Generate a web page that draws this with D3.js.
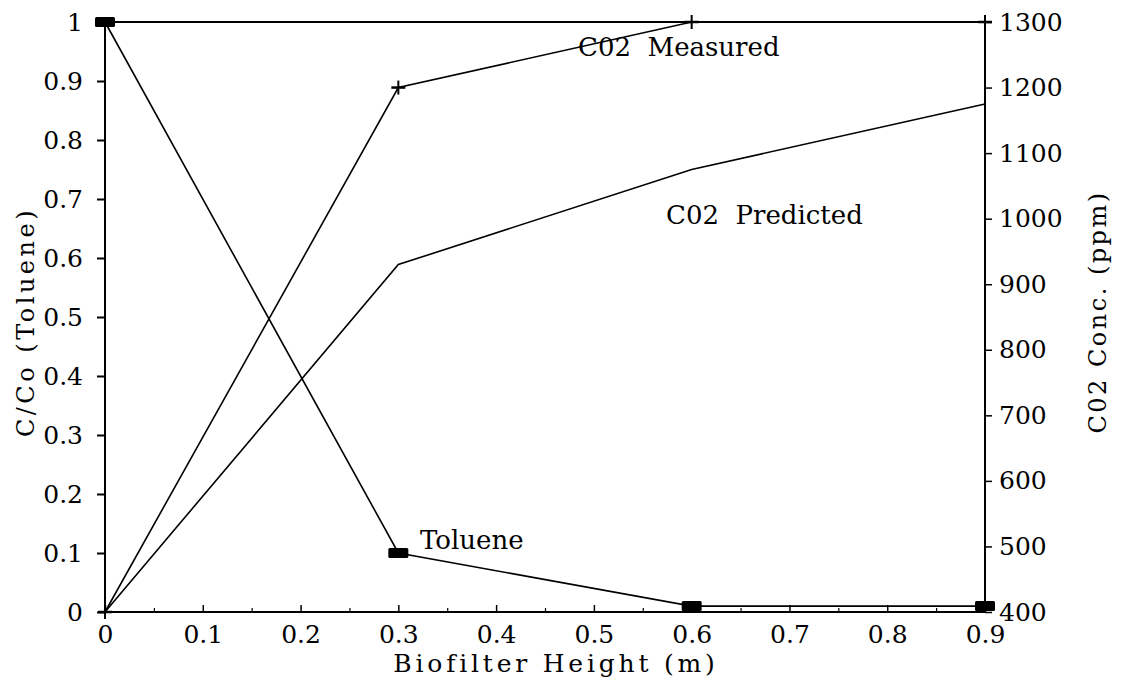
<!DOCTYPE html>
<html><head><meta charset="utf-8">
<script src="https://cdn.jsdelivr.net/npm/d3@7"></script>
<style>body{margin:0;background:#fff}svg{display:block}text{font-family:"DejaVu Serif",serif;fill:#000}</style>
</head><body>
<svg id="chart" width="1124" height="682"></svg>
<script>
const heights = [0, 0.3, 0.6, 0.9];
const toluene = [1.0, 0.10, 0.01, 0.01];
const co2Measured = [400, 1200, 1300, 1300];
const co2Predicted = [400, 930, 1075, 1175];
const xTicks = [0,0.1,0.2,0.3,0.4,0.5,0.6,0.7,0.8,0.9];
const xMinor = [0.05,0.15,0.25,0.35,0.45,0.55,0.65,0.75,0.85];
const leftTicks = [0,0.1,0.2,0.3,0.4,0.5,0.6,0.7,0.8,0.9,1];
const rightTicks = [400,500,600,700,800,900,1000,1100,1200,1300];

const svg = d3.select("#chart");
const L = 105, R = 985, T = 22, B = 612;
const x = d3.scaleLinear().domain([0, 0.9]).range([L, R]);
const yL = d3.scaleLinear().domain([0, 1]).range([B, T]);
const yR = d3.scaleLinear().domain([400, 1300]).range([B, T]);
const fs = 25;

// frame
svg.append("rect").attr("x", L).attr("y", T).attr("width", R - L).attr("height", B - T)
  .attr("fill", "none").attr("stroke", "#000").attr("stroke-width", 2);

// bottom axis: inward ticks
const bx = svg.append("g").attr("transform", `translate(0,${B})`)
  .call(d3.axisBottom(x).tickValues(xTicks).tickSize(-7).tickPadding(13)
    .tickFormat(d => d === 0 ? "0" : d3.format(".1f")(d)));
bx.select(".domain").remove();
bx.selectAll("line").attr("stroke-width", 1.5);
bx.selectAll("text").attr("font-size", fs).attr("dy", "0.71em");
svg.append("g").attr("transform", `translate(0,${B})`)
  .call(d3.axisBottom(x).tickValues(xMinor).tickSize(-4).tickFormat(""))
  .call(g => g.select(".domain").remove())
  .selectAll("line").attr("stroke-width", 1.2);

// left axis: outward ticks
const lx = svg.append("g").attr("transform", `translate(${L},0)`)
  .call(d3.axisLeft(yL).tickValues(leftTicks).tickSize(8).tickPadding(14)
    .tickFormat(d => (d === 0 || d === 1) ? String(d) : d3.format(".1f")(d)));
lx.select(".domain").remove();
lx.selectAll("line").attr("stroke-width", 2);
lx.selectAll("text").attr("font-size", fs);

// right axis: outward ticks
const rx = svg.append("g").attr("transform", `translate(${R},0)`)
  .call(d3.axisRight(yR).tickValues(rightTicks).tickSize(7).tickPadding(7).tickFormat(d3.format("d")));
rx.select(".domain").remove();
rx.selectAll("line").attr("stroke-width", 1.5);
rx.selectAll("text").attr("font-size", fs);

// axis titles
svg.append("text").attr("x", 556).attr("y", 672).attr("text-anchor", "middle")
  .attr("font-size", 25).attr("letter-spacing", 3.8).text("Biofilter Height (m)");
svg.append("text").attr("transform", `translate(34,322) rotate(-90)`)
  .attr("text-anchor", "middle").attr("font-size", 24).attr("letter-spacing", 3.5)
  .attr("xml:space", "preserve").text("C/Co (Toluene)");
svg.append("text").attr("transform", `translate(1106,312) rotate(-90)`)
  .attr("text-anchor", "middle").attr("font-size", 24).attr("letter-spacing", 2.5)
  .attr("xml:space", "preserve").text("C02 Conc. (ppm)");

// lines
const idx = d3.range(heights.length);
const lineL = arr => d3.line().x(i => x(heights[i])).y(i => yL(arr[i]));
const lineR = arr => d3.line().x(i => x(heights[i])).y(i => yR(arr[i]));
svg.append("path").attr("d", lineR(co2Predicted)(idx)).attr("fill", "none").attr("stroke", "#000").attr("stroke-width", 1.6);
svg.append("path").attr("d", lineR(co2Measured)(idx)).attr("fill", "none").attr("stroke", "#000").attr("stroke-width", 1.6);
svg.append("path").attr("d", lineL(toluene)(idx)).attr("fill", "none").attr("stroke", "#000").attr("stroke-width", 1.6);

// markers
svg.selectAll(".tm").data(idx).join("rect").attr("class", "tm")
  .attr("x", i => x(heights[i]) - 10).attr("y", i => yL(toluene[i]) - 5)
  .attr("width", 20).attr("height", 10).attr("rx", 1.5).attr("fill", "#000");
const plus = svg.selectAll(".pm").data(idx).join("g").attr("class", "pm")
  .attr("transform", i => `translate(${x(heights[i])},${yR(co2Measured[i])})`);
plus.append("line").attr("x1", -7).attr("x2", 7).attr("stroke", "#000").attr("stroke-width", 2.5);
plus.append("line").attr("y1", -7).attr("y2", 7).attr("stroke", "#000").attr("stroke-width", 2);

// annotations
svg.append("text").attr("x", 578).attr("y", 56).attr("font-size", 26).attr("xml:space", "preserve").text("C02  Measured");
svg.append("text").attr("x", 666).attr("y", 224).attr("font-size", 26).attr("xml:space", "preserve").text("C02  Predicted");
svg.append("text").attr("x", 420).attr("y", 549).attr("font-size", 26).text("Toluene");
</script>
</body></html>
